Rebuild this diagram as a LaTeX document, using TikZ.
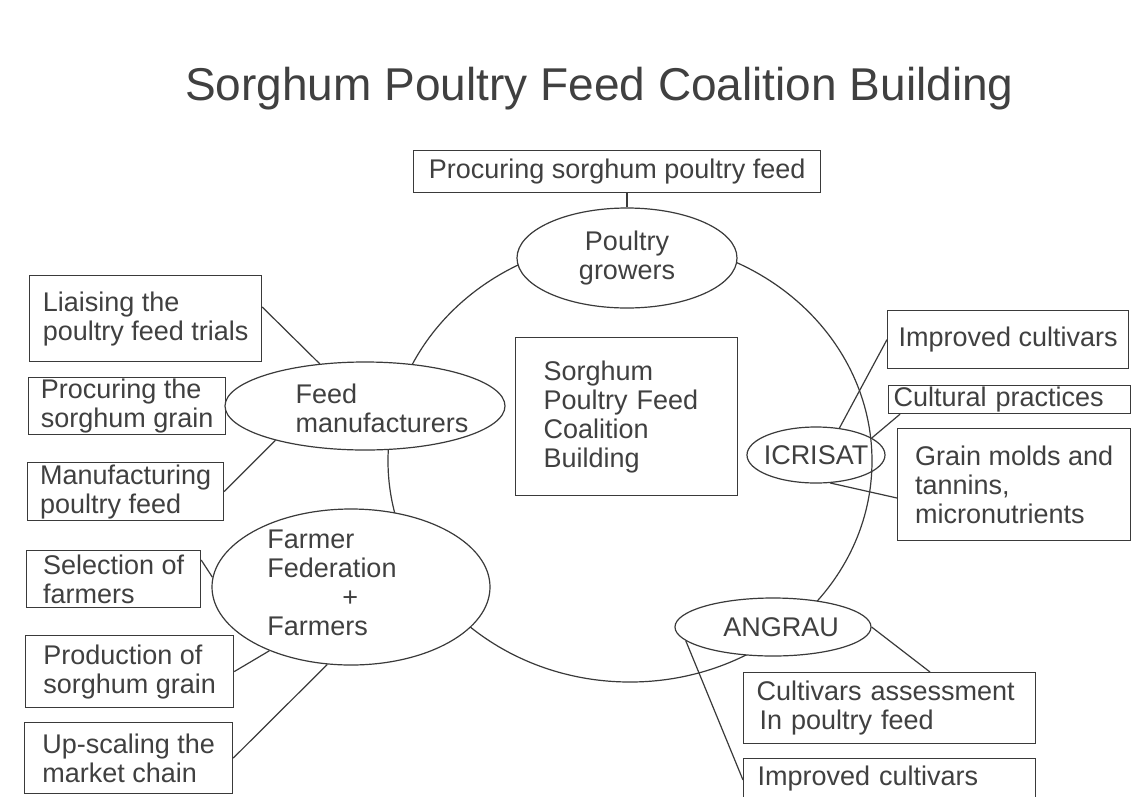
\documentclass[tikz,border=0pt]{standalone}
\usepackage{fontspec}
\setmainfont{Liberation Sans}
\usetikzlibrary{shapes.geometric,calc}
\definecolor{ink}{HTML}{3A3A3A}
\definecolor{txt}{HTML}{404040}
\newcommand\bodyfs{\fontsize{27}{29}\selectfont}
\newcommand\titlefs{\fontsize{46}{50}\selectfont}
\begin{document}
\begin{tikzpicture}[x=1pt,y=-1pt,
  every node/.style={text=txt},
  ln/.style={draw=ink, line width=1.2pt},
  tbox/.style={ln, rectangle, anchor=north west, inner sep=0pt, align=left, font=\bodyfs},
  ell/.style={ln, ellipse, inner sep=0pt, align=center, font=\bodyfs, fill=white},
  lbl/.style={align=left, font=\bodyfs, inner sep=0pt},
  con/.style={draw=ink, line width=1.2pt}]
\useasboundingbox (0,0) rectangle (1133,796);
\clip (0,0) rectangle (1133,796);
\fill[white] (0,0) rectangle (1133,796);

\node[font=\titlefs, anchor=base west, inner sep=0pt] (title) at (185,100) {Sorghum Poultry Feed Coalition Building};

\node[ln, ellipse, minimum width=484pt, minimum height=442pt, inner sep=0pt] (ring) at (630,461) {};

% boxes
\node[tbox, minimum width=407pt, minimum height=42pt] (top) at (413,150) {Procuring sorghum poultry feed};
\node[tbox, minimum width=222pt, minimum height=158pt, inner xsep=28pt, text width=166pt] (center) at (515,337) {Sorghum\\Poultry Feed\\Coalition\\Building};
\node[tbox, minimum width=232pt, minimum height=86pt] (liaise) at (29,275) {Liaising the\\poultry feed trials};
\node[tbox, minimum width=197pt, minimum height=57pt] (procgrain) at (28,377) {Procuring the\\sorghum grain};
\node[tbox, minimum width=196pt, minimum height=58pt] (manuf) at (27,462) {Manufacturing\\poultry feed};
\node[tbox, minimum width=174pt, minimum height=57pt] (select) at (26,550) {Selection of\\farmers};
\node[tbox, minimum width=208pt, minimum height=72pt] (prod) at (25,635) {Production of\\sorghum grain};
\node[tbox, minimum width=208pt, minimum height=71pt] (upscale) at (24,722) {Up-scaling the\\market chain};
\node[tbox, minimum width=241pt, minimum height=58pt] (icimp) at (887,310) {Improved cultivars};
\node[tbox, minimum width=242pt, minimum height=28pt, inner xsep=5pt, text width=232pt] (cult) at (888,385) {Cultural practices};
\node[tbox, minimum width=233pt, minimum height=112pt] (grain) at (897,428) {Grain molds and\\tannins,\\micronutrients};
\node[tbox, minimum width=292pt, minimum height=71pt, inner xsep=13pt, text width=266pt] (cass) at (743,672) {Cultivars assessment\\\hspace*{3pt}In poultry feed};
\node[tbox, minimum width=292pt, minimum height=40pt, inner xsep=14pt, text width=264pt] (aimp) at (743,758) {Improved cultivars};

% ellipses
\node[ell, minimum width=220pt, minimum height=100pt] (poultry) at (627,258) {Poultry\\growers};
\node[ell, minimum width=280pt, minimum height=88pt] (feed) at (365,406) {};
\node[lbl] (feedtxt) at (382,408) {Feed\\manufacturers};
\node[ell, minimum width=278pt, minimum height=156pt] (farmer) at (351,587) {};
\node[lbl] (farmertxt) at (332,583) {Farmer\\Federation\\\hspace*{75pt}+\\Farmers};
\node[ell, fill=none, minimum width=138pt, minimum height=56pt] (icrisat) at (816,455) {\makebox[0pt]{ICRISAT}};
\node[ell, minimum width=196pt, minimum height=58pt] (angrau) at (773,627) {\makebox[0pt]{\hspace*{16pt}ANGRAU}};

% connectors
\draw[con] (poultry.north) -- (poultry.north |- top.south);
\draw[con] ($(liaise.north east)+(0,32)$) -- (feed.137);
\draw[con] (manuf.east) -- (feed.201);
\draw[con] ($(select.north east)+(0,10)$) -- (farmer.176);
\draw[con] (prod.east) -- (farmer.218);
\draw[con] (upscale.east) -- (farmer.253);
\draw[con] (icrisat.49) -- (icimp.west);
\draw[con] (icrisat.17) -- ($(cult.south west)+(12,0)$);
\draw[con] (icrisat.297) -- ($(grain.north west)+(0,70)$);
\draw[con] (angrau.east) -- ($(cass.north west)+(187,0)$);
\draw[con] (angrau.189) -- ($(aimp.north west)+(0,22)$);
\end{tikzpicture}
\end{document}
